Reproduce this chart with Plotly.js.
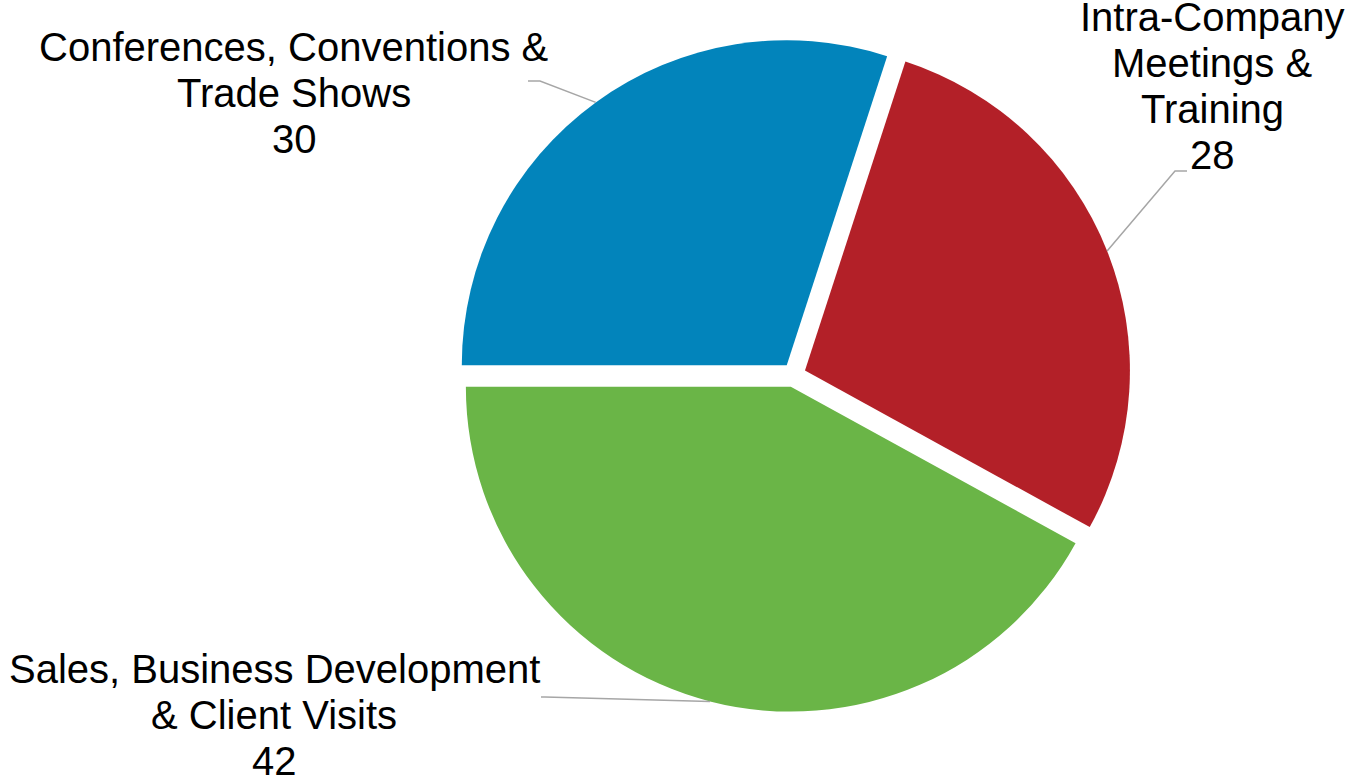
<!DOCTYPE html>
<html>
<head>
<meta charset="utf-8">
<script src="https://cdn.plot.ly/plotly-3.0.1.min.js"></script>
<style>html,body{margin:0;padding:0;background:#fff;}#chart{width:1346px;height:779px;}</style>
</head>
<body>
<div id="chart"></div>
<script>
// ---- data ----
const categories = ['Intra-Company Meetings & Training', 'Sales, Business Development & Client Visits', 'Conferences, Conventions & Trade Shows'];
const values = [28, 42, 30];
const labelLines = [
  ['Intra-Company', 'Meetings &', 'Training'],
  ['Sales, Business Development', '& Client Visits'],
  ['Conferences, Conventions &', 'Trade Shows']
];

// ---- styles / layout ----
const colors = ['#B32028', '#6AB547', '#0284BB'];
const W = 1346, H = 779;
const M = {l: 0, r: 0, t: 38, b: 67};
const domX = [0.3394, 0.8401];
const pull = 0.037;
const rotation = 18;
const fontSize = 40;
const lineGap = 46;
// label block: center x, first-line center y (pixels); leader line elbow & end
const labelPos = [
  {x: 1212, y: 17, elbow: [1175, 171], end: [1187, 171]},
  {x: 274, y: 669, elbow: [545, 697], end: [541, 697]},
  {x: 294, y: 47, elbow: [540, 81], end: [528, 81]}
];

const pw = W - M.l - M.r, ph = H - M.t - M.b;
const toPX = px => (px - M.l) / pw;
const toPY = py => 1 - (py - M.t) / ph;

// pie geometry (same formulas plotly uses)
const cx = M.l + pw * (domX[0] + domX[1]) / 2;
const cy = M.t + ph / 2;
const r = Math.min(pw * (domX[1] - domX[0]), ph) / (2 + 2 * pull);
const total = values.reduce((a, b) => a + b, 0);

const annotations = [];
const shapes = [];
let cum = 0;
values.forEach((v, i) => {
  const mid = (cum + v / 2) / total;
  cum += v;
  const th = (rotation + 360 * mid) * Math.PI / 180;
  const sx = Math.sin(th), sy = -Math.cos(th);
  const p0 = [cx + (pull * r + r) * sx, cy + (pull * r + r) * sy];
  const lp = labelPos[i];
  shapes.push({
    type: 'path', xref: 'paper', yref: 'paper',
    path: `M ${toPX(p0[0])} ${toPY(p0[1])} L ${toPX(lp.elbow[0])} ${toPY(lp.elbow[1])} L ${toPX(lp.end[0])} ${toPY(lp.end[1])}`,
    line: {color: '#A6A6A6', width: 1.5}
  });
  const lines = labelLines[i].concat([String(v)]);
  lines.forEach((t, k) => {
    annotations.push({
      xref: 'paper', yref: 'paper',
      x: toPX(lp.x), y: toPY(lp.y + k * lineGap),
      xanchor: 'center', yanchor: 'middle',
      text: t, showarrow: false,
      font: {family: 'Liberation Sans, Arial, sans-serif', size: fontSize, color: '#000'}
    });
  });
});

const trace = {
  type: 'pie',
  labels: categories,
  values: values,
  sort: false,
  direction: 'clockwise',
  rotation: rotation,
  pull: pull,
  marker: {colors: colors, line: {width: 0}},
  textinfo: 'none',
  hoverinfo: 'label+value',
  domain: {x: domX, y: [0, 1]}
};

const layout = {
  width: W, height: H,
  margin: M,
  showlegend: false,
  paper_bgcolor: '#fff',
  plot_bgcolor: '#fff',
  annotations: annotations,
  shapes: shapes
};

Plotly.newPlot('chart', [trace], layout, {displayModeBar: false, staticPlot: true});
</script>
</body>
</html>
